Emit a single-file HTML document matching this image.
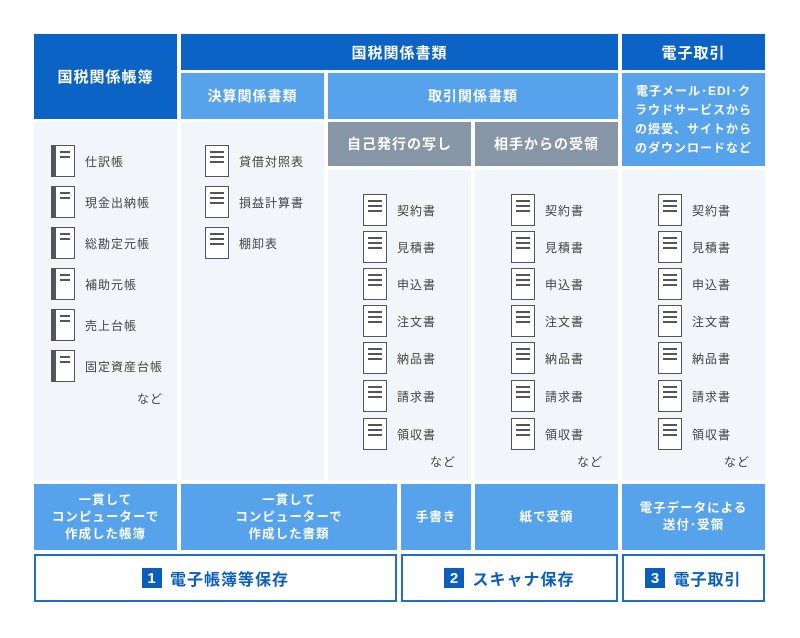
<!DOCTYPE html>
<html><head><meta charset="utf-8"><style>
*{margin:0;padding:0;box-sizing:border-box}
body{width:800px;height:638px;background:#fff;position:relative;font-family:"Liberation Sans","Noto Sans CJK JP",sans-serif;overflow:hidden}
.b{position:absolute;display:flex;align-items:center;justify-content:center;text-align:center;color:#fff;font-weight:bold;letter-spacing:1px}
.d{background:#0b63c5;font-size:15px}
.l{background:#56a3ec;font-size:14px}
.g{background:#8796a6;font-size:14px}
.c{position:absolute;background:#f2f5f9}
.s{font-size:12.5px;line-height:17px}
.it{position:absolute;font-size:12px;color:#444;letter-spacing:1px;display:flex;align-items:center}
.ic{width:24px;height:32px;border:1.5px solid #555;background:#fff;position:relative;margin-right:10px}
.ic i{position:absolute;left:4px;right:4px;height:1.5px;background:#555}
.n{border-left:5px solid #555}
.nd{position:absolute;font-size:12px;color:#444;letter-spacing:1px}
.f{position:absolute;border:2px solid #1f6fc8;background:#fff;display:flex;align-items:center;justify-content:center;color:#0b5fba;font-weight:bold;font-size:16px;letter-spacing:1px}
.f span{background:#0b5fba;color:#fff;width:20px;height:20px;display:inline-flex;align-items:center;justify-content:center;margin-right:8px;font-size:15px}
</style></head><body>
<div class="b d" style="left:34px;top:34px;width:143px;height:85px">国税関係帳簿</div>
<div class="b d" style="left:181px;top:34px;width:437px;height:36px">国税関係書類</div>
<div class="b d" style="left:622px;top:34px;width:143px;height:36px">電子取引</div>
<div class="b l" style="left:181px;top:73px;width:143px;height:46px">決算関係書類</div>
<div class="b l" style="left:328px;top:73px;width:290px;height:46px">取引関係書類</div>
<div class="b l s" style="left:622px;top:73px;width:143px;height:93px;font-size:12px;line-height:19px">電子メール･EDI･ク<br>ラウドサービスから<br>の授受、サイトから<br>のダウンロードなど</div>
<div class="b g" style="left:328px;top:122px;width:143px;height:44px">自己発行の写し</div>
<div class="b g" style="left:475px;top:122px;width:143px;height:44px">相手からの受領</div>

<div class="c" style="left:34px;top:122px;width:143px;height:358px"></div>
<div class="c" style="left:181px;top:122px;width:143px;height:358px"></div>
<div class="c" style="left:328px;top:170px;width:143px;height:310px"></div>
<div class="c" style="left:475px;top:170px;width:143px;height:310px"></div>
<div class="c" style="left:622px;top:170px;width:143px;height:310px"></div>

<div class="it" style="left:51px;top:145px"><div class="ic n"><i style="top:5px"></i><i style="top:10px"></i></div>仕訳帳</div>
<div class="it" style="left:51px;top:186px"><div class="ic n"><i style="top:5px"></i><i style="top:10px"></i></div>現金出納帳</div>
<div class="it" style="left:51px;top:227px"><div class="ic n"><i style="top:5px"></i><i style="top:10px"></i></div>総勘定元帳</div>
<div class="it" style="left:51px;top:268px"><div class="ic n"><i style="top:5px"></i><i style="top:10px"></i></div>補助元帳</div>
<div class="it" style="left:51px;top:309px"><div class="ic n"><i style="top:5px"></i><i style="top:10px"></i></div>売上台帳</div>
<div class="it" style="left:51px;top:350px"><div class="ic n"><i style="top:5px"></i><i style="top:10px"></i></div>固定資産台帳</div>
<div class="nd" style="left:137px;top:390px">など</div>

<div class="it" style="left:205px;top:145px"><div class="ic"><i style="top:5px"></i><i style="top:10px"></i><i style="top:15px"></i></div>貸借対照表</div>
<div class="it" style="left:205px;top:186px"><div class="ic"><i style="top:5px"></i><i style="top:10px"></i><i style="top:15px"></i></div>損益計算書</div>
<div class="it" style="left:205px;top:227px"><div class="ic"><i style="top:5px"></i><i style="top:10px"></i><i style="top:15px"></i></div>棚卸表</div>

<!-- col3 -->
<div class="it" style="left:363px;top:194px"><div class="ic"><i style="top:5px"></i><i style="top:10px"></i><i style="top:15px"></i></div>契約書</div>
<div class="it" style="left:363px;top:231px"><div class="ic"><i style="top:5px"></i><i style="top:10px"></i><i style="top:15px"></i></div>見積書</div>
<div class="it" style="left:363px;top:268px"><div class="ic"><i style="top:5px"></i><i style="top:10px"></i><i style="top:15px"></i></div>申込書</div>
<div class="it" style="left:363px;top:305px"><div class="ic"><i style="top:5px"></i><i style="top:10px"></i><i style="top:15px"></i></div>注文書</div>
<div class="it" style="left:363px;top:342px"><div class="ic"><i style="top:5px"></i><i style="top:10px"></i><i style="top:15px"></i></div>納品書</div>
<div class="it" style="left:363px;top:380px"><div class="ic"><i style="top:5px"></i><i style="top:10px"></i><i style="top:15px"></i></div>請求書</div>
<div class="it" style="left:363px;top:418px"><div class="ic"><i style="top:5px"></i><i style="top:10px"></i><i style="top:15px"></i></div>領収書</div>
<div class="nd" style="left:430px;top:453px">など</div>
<!-- col4 -->
<div class="it" style="left:511px;top:194px"><div class="ic"><i style="top:5px"></i><i style="top:10px"></i><i style="top:15px"></i></div>契約書</div>
<div class="it" style="left:511px;top:231px"><div class="ic"><i style="top:5px"></i><i style="top:10px"></i><i style="top:15px"></i></div>見積書</div>
<div class="it" style="left:511px;top:268px"><div class="ic"><i style="top:5px"></i><i style="top:10px"></i><i style="top:15px"></i></div>申込書</div>
<div class="it" style="left:511px;top:305px"><div class="ic"><i style="top:5px"></i><i style="top:10px"></i><i style="top:15px"></i></div>注文書</div>
<div class="it" style="left:511px;top:342px"><div class="ic"><i style="top:5px"></i><i style="top:10px"></i><i style="top:15px"></i></div>納品書</div>
<div class="it" style="left:511px;top:380px"><div class="ic"><i style="top:5px"></i><i style="top:10px"></i><i style="top:15px"></i></div>請求書</div>
<div class="it" style="left:511px;top:418px"><div class="ic"><i style="top:5px"></i><i style="top:10px"></i><i style="top:15px"></i></div>領収書</div>
<div class="nd" style="left:577px;top:453px">など</div>
<!-- col5 -->
<div class="it" style="left:658px;top:194px"><div class="ic"><i style="top:5px"></i><i style="top:10px"></i><i style="top:15px"></i></div>契約書</div>
<div class="it" style="left:658px;top:231px"><div class="ic"><i style="top:5px"></i><i style="top:10px"></i><i style="top:15px"></i></div>見積書</div>
<div class="it" style="left:658px;top:268px"><div class="ic"><i style="top:5px"></i><i style="top:10px"></i><i style="top:15px"></i></div>申込書</div>
<div class="it" style="left:658px;top:305px"><div class="ic"><i style="top:5px"></i><i style="top:10px"></i><i style="top:15px"></i></div>注文書</div>
<div class="it" style="left:658px;top:342px"><div class="ic"><i style="top:5px"></i><i style="top:10px"></i><i style="top:15px"></i></div>納品書</div>
<div class="it" style="left:658px;top:380px"><div class="ic"><i style="top:5px"></i><i style="top:10px"></i><i style="top:15px"></i></div>請求書</div>
<div class="it" style="left:658px;top:418px"><div class="ic"><i style="top:5px"></i><i style="top:10px"></i><i style="top:15px"></i></div>領収書</div>
<div class="nd" style="left:724px;top:453px">など</div>

<div class="b l s" style="left:34px;top:484px;width:143px;height:66px">一貫して<br>コンピューターで<br>作成した帳簿</div>
<div class="b l s" style="left:181px;top:484px;width:216px;height:66px">一貫して<br>コンピューターで<br>作成した書類</div>
<div class="b l s" style="left:401px;top:484px;width:70px;height:66px">手書き</div>
<div class="b l s" style="left:475px;top:484px;width:143px;height:66px">紙で受領</div>
<div class="b l s" style="left:622px;top:484px;width:143px;height:66px">電子データによる<br>送付･受領</div>

<div class="f" style="left:34px;top:554px;width:363px;height:48px"><span>1</span>電子帳簿等保存</div>
<div class="f" style="left:401px;top:554px;width:217px;height:48px"><span>2</span>スキャナ保存</div>
<div class="f" style="left:622px;top:554px;width:143px;height:48px"><span>3</span>電子取引</div>
</body></html>
